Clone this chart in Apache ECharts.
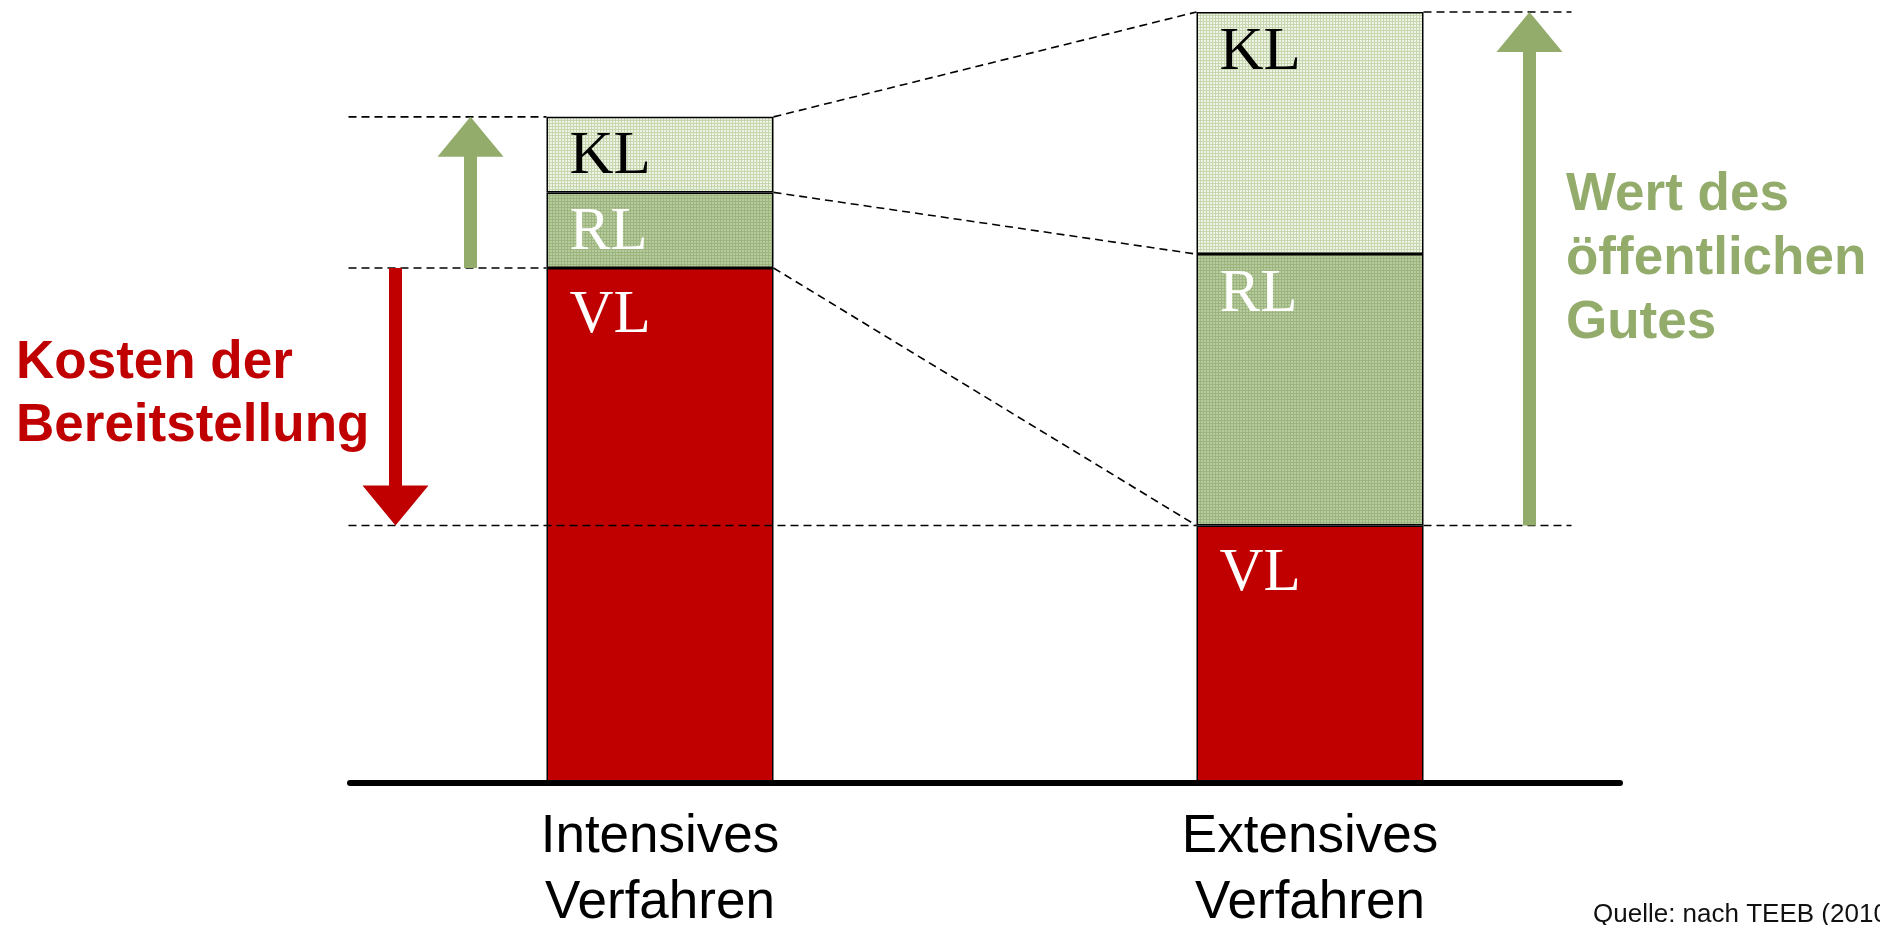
<!DOCTYPE html>
<html>
<head>
<meta charset="utf-8">
<script src="https://cdn.jsdelivr.net/npm/echarts@6/dist/echarts.min.js"></script>
<style>
html,body{margin:0;padding:0;background:#fff;}
#c{width:1880px;height:925px;}
</style>
</head>
<body>
<div id="c"></div>
<script>
// ---- data ----
const categories = ['Intensives\nVerfahren', 'Extensives\nVerfahren'];
const seriesNames = ['VL', 'RL', 'KL'];
const vlValues = [66.8, 33.4];
const rlValues = [9.8, 35.2];
const klValues = [9.8, 31.4];
const sourceText = 'Quelle: nach TEEB (2010)';
const leftNote = 'Kosten der\nBereitstellung';
const rightNote = 'Wert des\nöffentlichen\nGutes';

const RED = '#C00000';
const GREEN = '#93AC6B';
const BAR_W = 227;

function makePattern(bg, line) {
  const cv = document.createElement('canvas');
  cv.width = 3; cv.height = 3;
  const g = cv.getContext('2d');
  g.fillStyle = bg; g.fillRect(0, 0, 3, 3);
  g.fillStyle = line; g.fillRect(0, 0, 3, 1); g.fillRect(0, 0, 1, 3);
  return { image: cv, repeat: 'repeat' };
}
const klFill = makePattern('#EEF3E6', '#C6D6AF');
const rlFill = makePattern('#B8CB9F', '#9CB47E');

const chart = echarts.init(document.getElementById('c'), null, { renderer: 'canvas' });

function barLabel(color, dy) {
  return {
    show: true,
    position: 'insideTopLeft',
    distance: 9,
    offset: [14, dy],
    formatter: '{a}',
    fontFamily: 'Liberation Serif',
    fontSize: 61,
    lineHeight: 61,
    color: color
  };
}

function renderDecor(params, api) {
  const iVL = vlValues[0], iMid = vlValues[0] + rlValues[0], iTop = iMid + klValues[0];
  const eVL = vlValues[1], eMid = vlValues[1] + rlValues[1], eTop = eMid + klValues[1];
  const c0 = api.coord([0, 0])[0];
  const c1 = api.coord([1, 0])[0];
  const y = v => api.coord([0, v])[1];
  const iL = c0 - BAR_W / 2, iR = c0 + BAR_W / 2;
  const eL = c1 - BAR_W / 2, eR = c1 + BAR_W / 2;
  const dash = { stroke: '#000', lineWidth: 1.6, lineDash: [8, 5] };
  const line = (x1, y1, x2, y2) => ({ type: 'line', shape: { x1, y1, x2, y2 }, style: dash });
  const xs = iL - 198;
  const arrow = (x, yFrom, yTo, color) => {
    const dir = yTo < yFrom ? 1 : -1; // 1 = up
    const hb = yTo + dir * 40;
    return {
      type: 'polygon',
      shape: { points: [[x - 6.5, yFrom], [x - 6.5, hb], [x - 33, hb], [x, yTo], [x + 33, hb], [x + 6.5, hb], [x + 6.5, yFrom]] },
      style: { fill: color }
    };
  };
  return {
    type: 'group',
    children: [
      line(xs, y(iTop), iL, y(iTop)),
      line(xs, y(iVL), iL, y(iVL)),
      line(xs, y(eVL), eL, y(eVL)),
      line(eR, y(eTop), eR + 148, y(eTop)),
      line(eR, y(eVL), eR + 148, y(eVL)),
      line(iR, y(iTop), eL, y(eTop)),
      line(iR, y(iMid), eL, y(eMid)),
      line(iR, y(iVL), eL, y(eVL)),
      arrow(iL - 76, y(iVL), y(iTop), GREEN),
      arrow(iL - 151, y(iVL), y(eVL), RED),
      arrow(eR + 106, y(eVL), y(eTop), GREEN)
    ]
  };
}

const option = {
  backgroundColor: '#fff',
  animation: false,
  grid: [
    { left: 335, right: 245, top: 12, bottom: 142, containLabel: false, outerBoundsMode: 'none' },
    { left: 350, right: 260, top: 12, bottom: 142, containLabel: false, outerBoundsMode: 'none' }
  ],
  xAxis: [
    {
      type: 'category', gridIndex: 0, data: categories,
      axisLine: { show: false }, axisTick: { show: false },
      axisLabel: { margin: 21, fontFamily: 'Liberation Sans', fontSize: 53, lineHeight: 66, color: '#000' }
    },
    {
      type: 'value', gridIndex: 1, min: 0, max: 1, z: 6,
      axisLine: { show: true, onZero: false, lineStyle: { color: '#000', width: 6 } },
      axisTick: { show: false }, axisLabel: { show: false }, splitLine: { show: false }
    }
  ],
  yAxis: [
    { type: 'value', gridIndex: 0, min: 0, max: 100, show: false },
    { type: 'value', gridIndex: 1, min: 0, max: 1, show: false }
  ],
  graphic: [
    {
      type: 'text', left: 16, top: 332,
      style: { text: leftNote, font: 'bold 53px "Liberation Sans"', fill: RED, lineHeight: 63 }
    },
    {
      type: 'text', left: 1566, top: 163,
      style: { text: rightNote, font: 'bold 53px "Liberation Sans"', fill: GREEN, lineHeight: 64 }
    },
    {
      type: 'text', left: 1593, top: 902,
      style: { text: sourceText, font: '26px "Liberation Sans"', fill: '#111' }
    }
  ],
  series: [
    {
      name: seriesNames[0], type: 'bar', stack: 's', data: vlValues, barWidth: BAR_W,
      itemStyle: { color: RED, borderColor: '#000', borderWidth: 1.5 },
      label: barLabel('#fff', 9)
    },
    {
      name: seriesNames[1], type: 'bar', stack: 's', data: rlValues, barWidth: BAR_W,
      itemStyle: { color: rlFill, borderColor: '#000', borderWidth: 1.5 },
      label: barLabel('#fff', 1)
    },
    {
      name: seriesNames[2], type: 'bar', stack: 's', data: klValues, barWidth: BAR_W,
      itemStyle: { color: klFill, borderColor: '#000', borderWidth: 1.5 },
      label: barLabel('#000', 1)
    },
    {
      type: 'custom', z: 4, silent: true,
      data: [[0]],
      renderItem: renderDecor
    }
  ]
};
chart.setOption(option);
</script>
</body>
</html>
